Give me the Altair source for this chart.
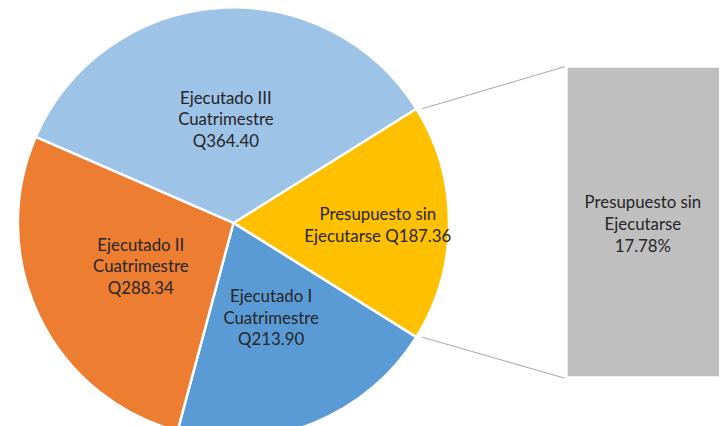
import math
import altair as alt
import pandas as pd

# ---- data ----
categorias = ["Presupuesto sin Ejecutarse", "Ejecutado I Cuatrimestre",
              "Ejecutado II Cuatrimestre", "Ejecutado III Cuatrimestre"]
nombres = ["Presupuesto sin\nEjecutarse", "Ejecutado I\nCuatrimestre",
           "Ejecutado II\nCuatrimestre", "Ejecutado III\nCuatrimestre"]
montos = [187.36, 213.90, 288.34, 364.40]
colores = ["#FFC000", "#5B9BD5", "#ED7D31", "#9DC3E6"]
separadores = [" ", "\n", "\n", "\n"]

total = sum(montos)
share = montos[0] / total
etiquetas = [f"{n}{s}Q{m:.2f}" for n, s, m in zip(nombres, separadores, montos)]

# ---- layout ----
W, H = 719, 418
cx, cy, R = 228, 215, 218
a0 = math.pi / 2 - share * math.pi  # centre the unspent slice at 3 o'clock
a1 = a0 + share * 2 * math.pi
bar_x, bar_x2, bar_y, bar_y2 = 566, 730, 58, 370
font = "Lato"
fs = 17
lh = 22
txt_color = "#262626"

df = pd.DataFrame({
    "cat": categorias,
    "monto": montos,
    "orden": list(range(len(categorias))),
    "etiqueta": etiquetas,
})

theta_scale = alt.Scale(domain=[0, total], range=[a0, a0 + 2 * math.pi])
color = alt.Color("cat:N", scale=alt.Scale(domain=categorias, range=colores), legend=None)

pie = alt.Chart(df).mark_arc(stroke="white", strokeWidth=2.5, radius=R).encode(
    theta=alt.Theta("monto:Q", stack=True, scale=theta_scale),
    color=color, order=alt.Order("orden:Q"),
    x=alt.value(cx), y=alt.value(cy),
)

lab_base = alt.Chart(df).transform_window(
    cum="sum(monto)", sort=[alt.SortField("orden")], frame=[None, 0]
).transform_calculate(
    mid="datum.cum - datum.monto / 2"
)

labels3 = lab_base.transform_filter(
    f"datum.cat != '{categorias[0]}'"
).mark_text(
    font=font, fontSize=fs, color=txt_color, lineBreak="\n", lineHeight=lh,
    align="center", baseline="middle", radius=104, dy=-lh,
).encode(
    theta=alt.Theta("mid:Q", stack=None, scale=theta_scale),
    text="etiqueta:N",
    x=alt.value(cx), y=alt.value(cy),
)

labels2 = lab_base.transform_filter(
    f"datum.cat == '{categorias[0]}'"
).mark_text(
    font=font, fontSize=fs, color=txt_color, lineBreak="\n", lineHeight=lh,
    align="center", baseline="middle", radius=146, dy=-lh / 2 + 3,
).encode(
    theta=alt.Theta("mid:Q", stack=None, scale=theta_scale),
    text="etiqueta:N",
    x=alt.value(cx), y=alt.value(cy),
)

bar_df = pd.DataFrame({
    "cat": [categorias[0]],
    "pct": [share * 100],
    "texto": [f"{nombres[0]}\n{share * 100:.2f}%"],
})

bar = alt.Chart(bar_df).mark_rect(color="#BFBFBF").encode(
    x=alt.value(bar_x), x2=alt.value(bar_x2),
    y=alt.value(bar_y), y2=alt.value(bar_y2),
)

bar_text = alt.Chart(bar_df).mark_text(
    font=font, fontSize=fs, color=txt_color, lineBreak="\n", lineHeight=lh,
    align="center", baseline="middle", dy=-lh,
).encode(
    text="texto:N",
    x=alt.value(642), y=alt.value(217),
)

# connector lines from the slice edges to the bar corners
p_start = (cx + R * math.sin(a0), cy - R * math.cos(a0))
p_end = (cx + R * math.sin(a1), cy - R * math.cos(a1))
lines_df = pd.DataFrame({
    "x": [p_start[0] + 6, p_end[0] + 6],
    "y": [p_start[1], p_end[1]],
    "x2": [bar_x - 3, bar_x - 3],
    "y2": [bar_y - 1, bar_y2 + 2],
})
lines = alt.Chart(lines_df).mark_rule(color="#A6A6A6", strokeWidth=1).encode(
    x=alt.X("x:Q", scale=None), y=alt.Y("y:Q", scale=None),
    x2="x2:Q", y2="y2:Q",
)

chart = alt.layer(bar, lines, pie, labels3, labels2, bar_text).properties(
    width=W, height=H, padding=0, autosize="none", background="white",
).configure_view(strokeWidth=0, stroke=None)

chart.save("out.html", embed_options={"renderer": "svg", "actions": False})
